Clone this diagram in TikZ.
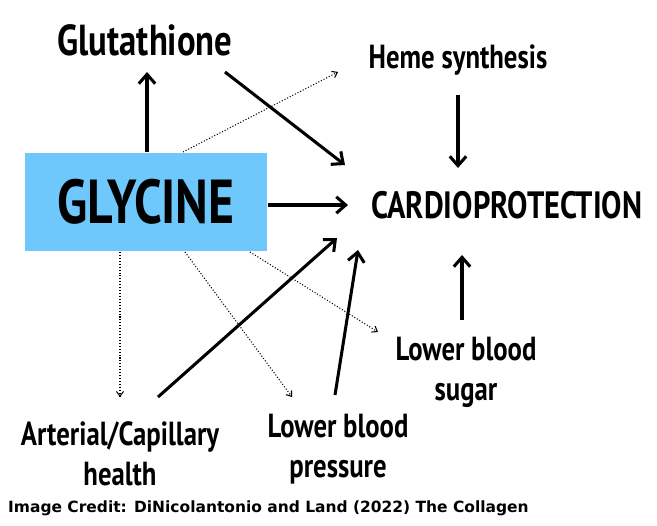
\documentclass[tikz,border=0pt]{standalone}
\usepackage{fontspec}
\setmainfont{PT Sans}
\newfontfamily\creditfont{DejaVu Sans}
\usepackage{graphicx}
\usetikzlibrary{positioning, arrows.meta}
\definecolor{glyblue}{HTML}{6EC8FB}
\newcommand{\cond}[1]{\scalebox{0.8}[1]{#1}}
\tikzset{
    lbl/.style={font=\bfseries\fontsize{28.5}{34}\selectfont, align=center, inner sep=0pt},
    bold/.style={line width=2.6pt, -{Straight Barb[length=8pt, width=14pt]}},
    dots/.style={line width=0.9pt, dash pattern=on 0.9pt off 1.6pt, -{Straight Barb[length=4pt, width=6pt]}}
}
\begin{document}
\begin{tikzpicture}[x=0.03cm, y=-0.03cm]
    \useasboundingbox (0,0) rectangle (657,525);
    \fill[white] (0,0) rectangle (657,525);
    \node[fill=glyblue, minimum width=242*0.03cm, minimum height=98*0.03cm, inner sep=0pt] (gly) at (146,202) {};
    \node[lbl, font=\bfseries\fontsize{53}{55}\selectfont] at (gly) {\cond{GLYCINE}};
    \node[lbl, font=\bfseries\fontsize{37}{40}\selectfont] (glu) at (145,40) {\cond{Glutathione}};
    \node[lbl] (heme) at (458,60) {\cond{Heme synthesis}};
    \node[lbl, font=\bfseries\fontsize{32.5}{36}\selectfont] (cardio) at (507,205) {\cond{CARDIOPROTECTION}};
    \node[lbl] (sugar) at (466,372) {\cond{Lower blood}\\\cond{sugar}};
    \node[lbl] (art) at (120,454) {\cond{Arterial/Capillary}\\\cond{health}};
    \node[lbl] (bp) at (338,449) {\cond{Lower blood}\\\cond{pressure}};
    \node[anchor=west, inner sep=0pt, font=\creditfont\bfseries\fontsize{13.2}{14}\selectfont] (credit) at (8,508) {Image Credit: DiNicolantonio and Land (2022) The Collagen};
    % solid arrows
    \coordinate (a1) at (147,152); \coordinate (a2) at (147,72);
    \draw[bold] (a1) -- (a2);
    \coordinate (b1) at (225,72); \coordinate (b2) at (345,165);
    \draw[bold] (b1) -- (b2);
    \coordinate (c1) at (268,205); \coordinate (c2) at (348,205);
    \draw[bold] (c1) -- (c2);
    \coordinate (d1) at (458,95); \coordinate (d2) at (458,168);
    \draw[bold] (d1) -- (d2);
    \coordinate (e1) at (462,320); \coordinate (e2) at (462,255);
    \draw[bold] (e1) -- (e2);
    \coordinate (f1) at (158,397); \coordinate (f2) at (337,238);
    \draw[bold] (f1) -- (f2);
    \coordinate (g1) at (335,395); \coordinate (g2) at (358,250);
    \draw[bold] (g1) -- (g2);
    % dotted arrows
    \coordinate (h1) at (183,152); \coordinate (h2) at (338,72);
    \draw[dots] (h1) -- (h2);
    \coordinate (i1) at (120,252); \coordinate (i2) at (120,397);
    \draw[dots] (i1) -- (i2);
    \coordinate (j1) at (185,252); \coordinate (j2) at (292,397);
    \draw[dots] (j1) -- (j2);
    \coordinate (k1) at (250,252); \coordinate (k2) at (378,332);
    \draw[dots] (k1) -- (k2);
\end{tikzpicture}
\end{document}
